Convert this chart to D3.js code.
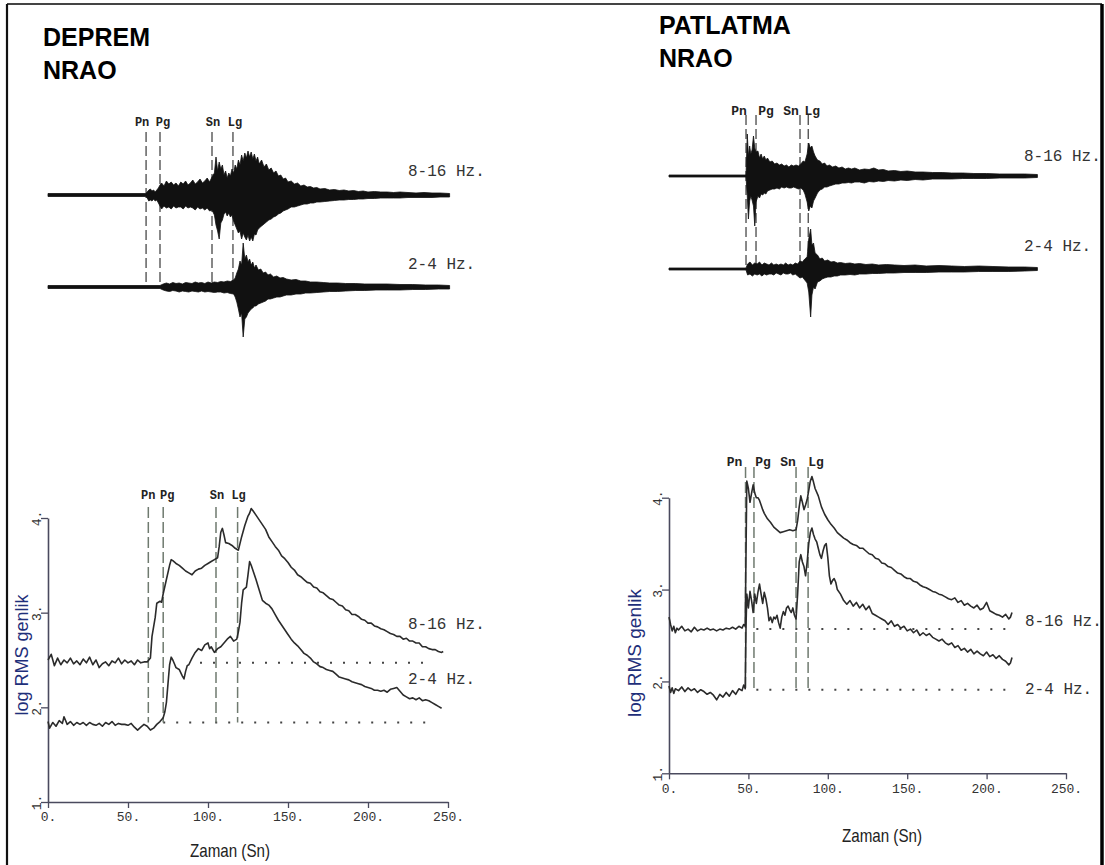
<!DOCTYPE html>
<html><head><meta charset="utf-8">
<script src="https://cdn.jsdelivr.net/npm/d3@7"></script>
<style>body{margin:0;background:#fff;} svg{display:block;}</style>
</head><body>
<svg id="chart" width="1105" height="865"></svg>
<script>
// ---------------- DATA ----------------
const titles = [["DEPREM","NRAO"],["PATLATMA","NRAO"]];
const bandNames = ["8-16 Hz.","2-4 Hz."];
const phaseNames = ["Pn","Pg","Sn","Lg"];
const xTickVals = [0,50,100,150,200,250];
const yTickVals = [1,2,3,4];
const xAxisTitle = "Zaman (Sn)";
const yAxisTitle = "log RMS genlik";

// phase arrival times (s)
const depPhaseTop = [61.3,70,102.5,115.6];
const depPhaseBot = [62.7,72,105,118.5];
const patPhaseTop = [48.5,54.8,82.5,87.7];
const patPhaseBot = [48.2,53.5,80,87.6];

// noise levels (log RMS) and dotted start times
const depNoise = [2.47,1.84];
const depNoiseStart = [95,72];
const depNoiseEnd = 241;
const patNoise = [2.57,1.91];
const patNoiseStart = [55,55];
const patNoiseEnd = 216;

// ---- DEPREM log RMS curves ----
const depT816 = [0,2,4,6,8,10,12,14,16,18,20,22,24,26,28,30,32,34,36,38,40,42,44,46,48,50,52,54,56,58,60,62,64,65,67,68,70,71,72,74,76,77,78,80,82,84,86,88,90,92,94,96,98,100,102,104,106,107,108,109,110,111,113,115,117,119,121,123,125,126,127,128,130,132,134,136,138,140,142,144,146,148,150,152,154,156,158,160,162,164,166,168,170,172,174,176,178,180,182,184,186,188,190,192,194,196,198,200,202,204,206,208,210,212,214,216,218,220,222,224,226,228,230,232,234,236,238,240,242,244,246,247];
const depV816 = [2.50,2.56,2.44,2.52,2.45,2.50,2.47,2.52,2.46,2.49,2.45,2.51,2.47,2.53,2.45,2.50,2.42,2.46,2.48,2.44,2.49,2.47,2.52,2.46,2.50,2.47,2.49,2.45,2.50,2.47,2.48,2.48,2.52,2.75,2.95,3.10,3.12,3.11,3.20,3.35,3.50,3.56,3.55,3.52,3.50,3.47,3.44,3.42,3.40,3.44,3.46,3.47,3.50,3.52,3.54,3.56,3.58,3.70,3.85,3.89,3.82,3.74,3.73,3.71,3.68,3.66,3.80,3.92,4.02,4.05,4.10,4.08,4.03,3.98,3.93,3.88,3.80,3.75,3.70,3.66,3.60,3.57,3.53,3.48,3.45,3.40,3.38,3.35,3.32,3.31,3.27,3.26,3.22,3.21,3.18,3.15,3.14,3.11,3.08,3.07,3.03,3.02,2.98,2.98,2.96,2.93,2.92,2.89,2.89,2.86,2.85,2.83,2.82,2.80,2.78,2.77,2.75,2.75,2.72,2.73,2.70,2.70,2.68,2.68,2.64,2.64,2.62,2.61,2.61,2.59,2.58,2.59];
const depT24 = [0,1,3,5,7,9,10,12,14,16,18,20,22,24,26,28,30,32,34,36,38,40,42,44,46,48,50,52,54,56,58,60,62,64,66,68,70,72,73,74,75,76,77,78,79,80,82,84,85,86,87,88,90,92,94,96,98,100,101,102,104,106,108,110,112,114,116,118,119,120,121,122,124,125,126,127,128,130,132,134,136,138,140,142,144,146,148,150,152,154,156,158,160,162,164,166,168,170,172,174,176,178,180,182,184,186,188,190,192,194,196,198,200,202,204,206,208,210,212,214,216,218,220,222,224,226,228,230,232,234,236,238,240,242,244,246];
const depV24 = [1.85,1.78,1.84,1.80,1.86,1.83,1.90,1.82,1.85,1.81,1.84,1.82,1.84,1.81,1.84,1.82,1.81,1.83,1.80,1.84,1.82,1.85,1.81,1.83,1.82,1.82,1.81,1.83,1.79,1.76,1.79,1.82,1.80,1.76,1.78,1.82,1.85,1.89,1.95,2.05,2.25,2.45,2.53,2.50,2.46,2.42,2.40,2.33,2.30,2.38,2.44,2.45,2.52,2.58,2.62,2.60,2.66,2.68,2.62,2.64,2.58,2.62,2.64,2.68,2.72,2.75,2.70,2.72,2.80,2.90,3.10,3.24,3.27,3.40,3.54,3.50,3.45,3.35,3.24,3.13,3.10,3.08,3.04,2.98,2.92,2.87,2.82,2.77,2.72,2.68,2.65,2.61,2.57,2.55,2.52,2.48,2.46,2.43,2.42,2.40,2.39,2.38,2.35,2.32,2.31,2.30,2.29,2.27,2.26,2.25,2.24,2.22,2.21,2.20,2.18,2.18,2.17,2.18,2.16,2.19,2.20,2.21,2.17,2.13,2.11,2.09,2.10,2.08,2.10,2.07,2.08,2.07,2.05,2.03,2.01,1.99];

// ---- PATLATMA log RMS curves ----
const patT816 = [0,1,2,3,4,5,6,8,10,12,14,16,18,20,22,24,26,28,30,32,34,36,38,40,42,44,46,47,48,48.5,49,50,51,52,53,54,55,56,57,58,59,60,62,64,66,68,70,72,74,76,78,80,81,82,83,84,85,86,87,88,89,90,91,92,94,96,98,100,102,104,106,108,110,112,114,116,118,120,122,124,126,128,130,132,134,136,138,140,142,144,146,148,150,152,154,156,158,160,162,164,166,168,170,172,174,176,178,180,182,184,186,188,190,192,194,196,198,200,202,204,206,208,210,212,214,215,216];
const patV816 = [2.70,2.62,2.55,2.60,2.53,2.58,2.56,2.60,2.55,2.57,2.54,2.59,2.55,2.57,2.56,2.58,2.56,2.57,2.55,2.57,2.56,2.58,2.57,2.59,2.57,2.60,2.58,2.62,2.60,3.40,4.18,4.10,3.95,4.05,4.14,4.05,4.00,4.00,3.97,3.92,3.87,3.83,3.77,3.73,3.68,3.65,3.62,3.63,3.64,3.65,3.64,3.65,3.75,3.90,4.02,3.95,3.87,3.92,3.98,4.08,4.18,4.23,4.17,4.10,4.02,3.90,3.82,3.76,3.71,3.67,3.62,3.59,3.56,3.54,3.51,3.49,3.48,3.45,3.45,3.42,3.39,3.38,3.34,3.33,3.29,3.28,3.25,3.24,3.21,3.18,3.17,3.14,3.12,3.12,3.09,3.08,3.05,3.03,3.02,3.00,2.98,2.97,2.95,2.94,2.92,2.90,2.89,2.91,2.86,2.88,2.83,2.85,2.82,2.80,2.83,2.78,2.80,2.86,2.77,2.75,2.73,2.72,2.70,2.73,2.68,2.70,2.75];
const patT24 = [0,1,2,3,4,6,8,10,12,14,16,18,20,22,24,26,28,30,32,34,36,38,40,42,44,46,47,48,48.5,49,50,51,52,53,54,55,56,57,58,59,60,61,62,63,64,65,66,67,68,69,70,71,72,73,74,75,76,77,78,79,80,81,82,83,84,85,86,87,88,89,90,91,92,93,94,95,96,97,98,99,100,101,102,103,104,105,106,108,110,112,114,116,118,120,122,124,126,128,130,132,134,136,138,140,142,144,146,148,150,152,154,156,158,160,162,164,166,168,170,172,174,176,178,180,182,184,186,188,190,192,194,196,198,200,202,204,206,208,210,212,214,215,216];
const patV24 = [1.95,1.88,1.93,1.87,1.92,1.90,1.94,1.89,1.93,1.90,1.92,1.88,1.91,1.89,1.86,1.88,1.85,1.80,1.86,1.83,1.88,1.84,1.90,1.86,1.92,1.90,1.96,1.92,2.60,2.95,2.80,2.98,2.88,2.75,2.95,2.85,2.97,3.06,2.95,2.85,2.97,2.90,2.80,2.66,2.70,2.64,2.70,2.68,2.72,2.64,2.58,2.70,2.76,2.72,2.80,2.82,2.78,2.75,2.80,2.72,2.68,2.95,3.30,3.38,3.30,3.25,3.15,3.30,3.50,3.62,3.67,3.60,3.55,3.52,3.45,3.38,3.34,3.42,3.48,3.50,3.35,3.15,3.06,3.10,3.12,3.08,3.00,2.95,2.88,2.84,2.88,2.82,2.86,2.80,2.84,2.78,2.82,2.74,2.72,2.70,2.68,2.66,2.62,2.66,2.60,2.62,2.58,2.60,2.55,2.57,2.53,2.56,2.50,2.53,2.50,2.52,2.48,2.46,2.44,2.46,2.42,2.40,2.42,2.37,2.39,2.34,2.36,2.32,2.35,2.30,2.33,2.30,2.28,2.32,2.27,2.29,2.25,2.28,2.24,2.22,2.18,2.20,2.26];

// ---- seismogram envelopes (time s, upper / lower amplitude) ----
const depSeisT816 = [0,61,62,63,64,65,66,67,68,69,70,71,72.5,74,75.5,77,78.5,80,81.5,83,84.5,86,87.5,89,90.5,92,93.5,95,96.5,98,99.5,101,102.5,104,105,106,107,108,109,110,111,112,113,114,115,116,117,118,119,120,121,122,123,124,125,126,127,128,129,130,131,132,133.5,135,136.5,138,139.5,141,142.5,144,145.5,147,148.5,150,152,154,156,158,160,162,164,166,168,170,173,176,179,182,185,188,191,194,197,200,204,208,212,216,220,225,230,235,240,245,251];
const depSeisUp816 = [1.5,1.5,3,5,6,4,5,3,5,7,10,12,9,14,11,13,10,12,9,13,11,14,10,12,15,11,13,16,12,14,17,13,18,22,38,24,33,26,30,20,24,17,22,19,26,22,30,26,35,30,40,34,42,37,44,38,43,36,41,34,38,31,35,28,31,25,27,22,24,19,20,16,17,13,14,11,12,9,10,8,8.5,7,7.5,6,6.5,5,5.5,4.5,5,4,4.5,3.5,4,3,3.5,3,3,2.5,3,2.5,2,2.5,2,2,1.5];
const depSeisDn816 = [1.5,1.5,3,6,5,6,4,6,5,8,11,14,11,13,12,14,11,13,12,12,14,11,13,12,13,15,12,14,13,15,13,16,15,20,30,36,44,28,25,19,17,21,18,22,20,26,30,34,38,36,44,38,42,45,40,46,42,46,39,40,35,33,31,29,27,25,24,22,21,19,18,16,15,14,12,12,11,10,9,9,8,8,7,7,6.5,6,5.5,5,5,4.5,4.5,4,4,3.5,3.5,3,3,3,3,2.5,2.5,2.5,2.5,2,2];
const depSeisT24 = [0,70,72,74,76,78,80,82,84,86,88,90,92,94,96,98,100,102,104,106,108,110,112,114,116,117,118,119,120,121,122,123,124,125,126,127,128,129,130,131.5,133,134.5,136,137.5,139,141,143,145,147,149,152,155,158,161,164,168,172,176,181,186,192,198,205,212,220,228,236,244,251];
const depSeisUp24 = [1.5,1.5,3,4,3,4.5,3.5,4,3,4.5,4,3.5,5,4,4.5,3.5,5,4,5,4.5,5.5,5,6,5.5,7,9,14,18,26,22,44,28,32,25,28,22,25,19,22,17,18,14,15,12,13,10,11,9,9.5,8,7,7.5,6,6,5,5,4.5,4,4,3.5,3.5,3,3,3,2.5,2.5,2,2,1.5];
const depSeisDn24 = [1.5,1.5,3,4,4.5,3.5,4,5,4,4.5,5,4,4.5,5,4,5,4.5,5,5.5,5,5,6,5.5,6.5,7,10,15,22,30,26,50,32,30,26,24,22,21,19,19,17,16,15,14,12,12,11,10,10,9,8,8,7,7,6,6,5.5,5,4.5,4.5,4,3.5,3.5,3,3,3,2.5,2.5,2,2];
const patSeisT816 = [0,48.5,49.3,50,50.8,51.5,52.3,53.2,54,54.8,56,57,58,59,60,61,62,63.5,65,66.5,68,69.5,71,72.5,74,75.5,77,78.5,80,81.5,83,84.5,85.6,87,88,89,90,91,92,93.5,95,96.5,98,99.5,101,103,105,107,109,111,113,115,117,120,123,126,129,132,135,138,142,146,150,155,160,166,172,178,185,192,200,208,216,224,232];
const patSeisUp816 = [1,1,42,20,30,22,26,40,28,24,25,18,22,17,20,16,18,14,15,12,13,11,12,10,11,9,11,10,11,10,12,15,14,22,33,28,30,24,20,16,15,12,13,10,11,9,10,8,9,7,8,7,8,6,7,6.5,8,6,6.5,5,5.5,4.5,5,4,4,3.5,3.5,3,3,2.5,2.5,2,2,2,1.5];
const patSeisDn816 = [1,1,20,43,25,20,24,30,50,26,20,22,18,19,17,18,15,14,13,13,12,13,11,12,11,12,12,11,12,13,12,14,18,26,35,30,32,25,22,17,14,13,11,11,10,9,8,8,7,7,6.5,7,6,6,7,5.5,6,5,5.5,4.5,5,4,4.5,3.5,4,3,3,3,2.5,2.5,2.5,2,2,2,1.5];
const patSeisT24 = [0,48.5,49.5,51,52.5,54,55.5,57,58.5,60,61.5,63,64.5,66,67.5,69,70.5,72,73.5,75,76.5,78,79.5,81,82.5,84,85.5,87,88,89.2,90,91,92,93.5,95,96.5,98,100,102,104,106,108,111,114,117,120,124,128,132,137,142,148,155,162,170,178,186,195,204,214,224,232];
const patSeisUp24 = [1,1,5,7,4,6,5,7,4,6,5,4,6,4,5,4,5,4,6,4,5,4,6,5,8,7,10,12,30,40,24,26,16,14,10,11,8,9,7,7.5,6,6.5,5.5,6,5,5.5,4.5,5,4,4.5,4,3.5,4,3,3.5,3,2.5,3,2.5,2,2,1.5];
const patSeisDn24 = [1,1,6,5,7,5,6,5,7,5,6,5,5,6,4,5,6,4,5,5,4,6,5,7,9,8,11,14,23,48,26,18,20,13,12,10,9,8,8,7,7,6,6,5.5,6,5,5,4.5,4.5,4,4,3.5,3.5,3.5,3,3,3,2.5,2.5,2.5,2,1.5];

// ---------------- DRAWING ----------------
const svg = d3.select("#chart");
const zip = (t, v) => t.map((d, i) => ({t: d, v: v[i]}));
const MONO = "'Liberation Mono', 'DejaVu Sans Mono', monospace";
const SANS = "'Liberation Sans', Arial, sans-serif";

// frame
svg.append("line").attr("x1",7).attr("x2",1102).attr("y1",4).attr("y2",4).attr("stroke","#444").attr("stroke-width",2);
svg.append("line").attr("x1",7).attr("x2",7).attr("y1",4).attr("y2",865).attr("stroke","#111").attr("stroke-width",2.2);
svg.append("line").attr("x1",1102).attr("x2",1102).attr("y1",4).attr("y2",865).attr("stroke","#000").attr("stroke-width",3.5);

function drawTitle(lines, x, y0) {
  lines.forEach((s, i) => {
    svg.append("text").attr("x", x).attr("y", y0 + i * 33).text(s)
      .attr("font-family", SANS).attr("font-weight", "bold").attr("font-size", 25).attr("fill", "#000");
  });
}
drawTitle(titles[0], 43, 46);
drawTitle(titles[1], 659, 34);

function drawSeis(x, base, T, up, dn) {
  const a = d3.scaleLinear().domain([-50, 50]).range([base + 50, base - 50]);
  const pts = T.map((t, i) => ({t, u: up[i], d: dn[i]}));
  svg.append("path").datum(pts)
    .attr("d", d3.area().x(p => x(p.t)).y0(p => a(-p.d)).y1(p => a(p.u)))
    .attr("fill", "#111").attr("stroke", "#111").attr("stroke-width", 0.8).attr("stroke-linejoin", "round");
}

function drawPhases(x, times, yTop, yBot, labelY, offsets, fontSize, color) {
  times.forEach((t, i) => {
    svg.append("line").attr("x1", x(t)).attr("x2", x(t)).attr("y1", yTop).attr("y2", yBot)
      .attr("stroke", color).attr("stroke-width", 1.4).attr("stroke-dasharray", "10,4");
    svg.append("text").attr("x", x(t) + offsets[i]).attr("y", labelY).text(phaseNames[i])
      .attr("text-anchor", "middle").attr("font-family", MONO).attr("font-size", fontSize)
      .attr("font-weight", "bold").attr("fill", "#222");
  });
}

function bandLabel(x, y, s) {
  svg.append("text").attr("x", x).attr("y", y).text(s)
    .attr("font-family", MONO).attr("font-size", 16).attr("fill", "#333");
}

// ---- top seismograms ----
const xDepTop = d3.scaleLinear().domain([0, 250]).range([48, 448]);
const xPatTop = d3.scaleLinear().domain([0, 250]).range([669, 1066]);
drawPhases(xDepTop, depPhaseTop, 132, 285, 126, [-4, 3, 1, 2], 12, "#555");
drawPhases(xPatTop, patPhaseTop, 115, 268, 115, [-7, 10, -9, 4], 13, "#555");
drawSeis(xDepTop, 195, depSeisT816, depSeisUp816, depSeisDn816);
drawSeis(xDepTop, 287, depSeisT24, depSeisUp24, depSeisDn24);
drawSeis(xPatTop, 176, patSeisT816, patSeisUp816, patSeisDn816);
drawSeis(xPatTop, 269, patSeisT24, patSeisUp24, patSeisDn24);
bandLabel(408, 176, bandNames[0]);
bandLabel(408, 269, bandNames[1]);
bandLabel(1024, 161, bandNames[0]);
bandLabel(1024, 251, bandNames[1]);

// ---- bottom RMS panels ----
function drawPanel(o) {
  const x = d3.scaleLinear().domain([0, 250]).range(o.xr);
  const y = d3.scaleLinear().domain([1, 4]).range(o.yr);
  const axisColor = "#4a4a5e";

  o.noise.forEach((n, i) => {
    svg.append("line").attr("x1", x(o.noiseStart[i])).attr("x2", x(o.noiseEnd))
      .attr("y1", y(n)).attr("y2", y(n)).attr("stroke", "#444").attr("stroke-width", 2)
      .attr("stroke-dasharray", "2,11");
  });

  o.phases.forEach((t, i) => {
    svg.append("line").attr("x1", x(t)).attr("x2", x(t)).attr("y1", o.dashTop).attr("y2", y(o.noise[1]))
      .attr("stroke", "#6f7a6f").attr("stroke-width", 1.5).attr("stroke-dasharray", "11,4");
    svg.append("text").attr("x", x(t) + o.labOff[i]).attr("y", o.labY).text(phaseNames[i])
      .attr("text-anchor", "middle").attr("font-family", MONO).attr("font-size", o.labSize)
      .attr("font-weight", "bold").attr("fill", "#222");
  });

  const gx = svg.append("g").attr("transform", `translate(0,${o.yr[0]})`)
    .call(d3.axisBottom(x).tickValues(xTickVals).tickFormat(d => d + ".").tickSizeInner(6).tickSizeOuter(0));
  gx.select(".domain").attr("stroke", axisColor).attr("stroke-width", 1.6);
  gx.selectAll(".tick line").attr("stroke", axisColor).attr("stroke-width", 1.3);
  gx.selectAll(".tick text").attr("font-family", MONO).attr("font-size", 13).attr("fill", "#333")
    .attr("y", 10).attr("dy", "0.71em");

  const gy = svg.append("g").attr("transform", `translate(${o.xr[0]},0)`)
    .call(d3.axisLeft(y).tickValues(yTickVals).tickFormat(d => d + ".").tickSizeInner(7).tickSizeOuter(0));
  gy.select(".domain").attr("stroke", axisColor).attr("stroke-width", 1.6);
  gy.selectAll(".tick line").attr("stroke", axisColor).attr("stroke-width", 1.3);
  gy.selectAll(".tick text").attr("font-family", MONO).attr("font-size", 13).attr("fill", "#333")
    .attr("x", null).attr("text-anchor", "middle")
    .attr("transform", "translate(-12,0) rotate(-90)").attr("dy", "0.35em");

  const line = d3.line().x(d => x(d.t)).y(d => y(d.v));
  o.series.forEach(s => {
    svg.append("path").datum(s).attr("d", line).attr("fill", "none")
      .attr("stroke", "#2b2b2b").attr("stroke-width", 1.6).attr("stroke-linejoin", "round");
  });

  bandLabel(o.bandX, o.bandY[0], bandNames[0]);
  bandLabel(o.bandX, o.bandY[1], bandNames[1]);

  svg.append("text").attr("transform", `translate(${o.yTitleX},${o.yTitleY}) rotate(-90)`)
    .attr("text-anchor", "middle").attr("font-family", SANS).attr("font-size", 19)
    .attr("textLength", o.yTitleLen).attr("lengthAdjust", "spacingAndGlyphs")
    .attr("fill", "#1f2f7a").text(yAxisTitle);
  svg.append("text").attr("x", o.xTitleX).attr("y", o.xTitleY)
    .attr("text-anchor", "middle").attr("font-family", SANS).attr("font-size", 19)
    .attr("textLength", 80).attr("lengthAdjust", "spacingAndGlyphs")
    .attr("fill", "#222").text(xAxisTitle);
}

drawPanel({
  xr: [48, 448], yr: [802, 518],
  noise: depNoise, noiseStart: depNoiseStart, noiseEnd: depNoiseEnd,
  phases: depPhaseBot, dashTop: 507, labY: 499, labOff: [0, 4, 1, 1], labSize: 12,
  series: [zip(depT816, depV816), zip(depT24, depV24)],
  bandX: 408, bandY: [629, 684],
  yTitleX: 28, yTitleY: 655, yTitleLen: 121,
  xTitleX: 230, xTitleY: 857
});
drawPanel({
  xr: [669, 1066], yr: [773.3, 497.7],
  noise: patNoise, noiseStart: patNoiseStart, noiseEnd: patNoiseEnd,
  phases: patPhaseBot, dashTop: 467, labY: 466, labOff: [-11, 9, -8, 8], labSize: 13,
  series: [zip(patT816, patV816), zip(patT24, patV24)],
  bandX: 1025, bandY: [626, 694],
  yTitleX: 641, yTitleY: 653, yTitleLen: 128,
  xTitleX: 882, xTitleY: 842
});
</script>
</body></html>
